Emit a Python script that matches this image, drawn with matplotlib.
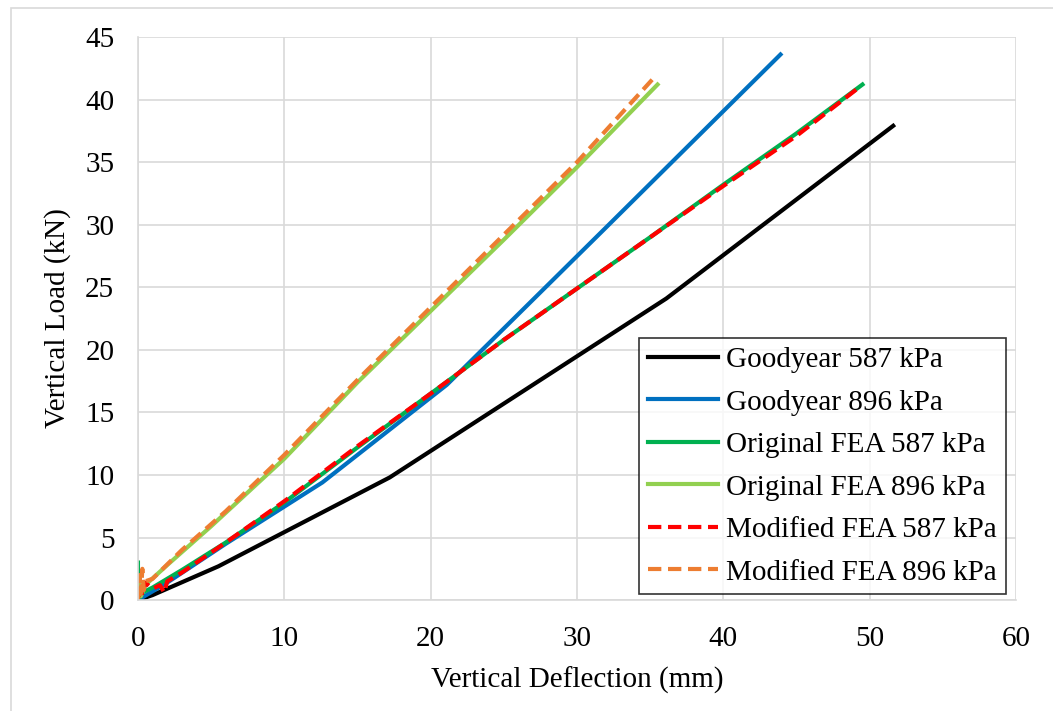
import matplotlib.pyplot as plt
from matplotlib.patches import Rectangle

plt.rcParams['font.family'] = ['Liberation Serif', 'DejaVu Serif']

# Goodyear measured
gy587_x = [0.0, 1.0, 5.5, 17.2, 36.1, 51.6]
gy587_y = [0.0, 0.4, 2.7, 9.8, 24.1, 37.9]
gy896_x = [0.0, 2.0, 6.0, 12.6, 21.1, 32.0, 43.9]
gy896_y = [0.0, 1.4, 4.5, 9.4, 17.2, 29.8, 43.6]

# Original FEA
ofea587_x = [0.0, 0.0, 0.1, 0.3, 1.0, 3.0, 6.0, 10.0, 15.0, 20.0, 25.0, 30.0, 35.0, 40.0, 45.0, 49.5]
ofea587_y = [3.0, 0.5, 0.2, 0.6, 1.0, 2.4, 4.6, 7.8, 12.2, 16.5, 20.8, 24.9, 29.0, 33.2, 37.3, 41.2]
ofea896_x = [0.0, 0.2, 0.5, 2.0, 5.0, 10.0, 15.0, 20.0, 25.0, 30.0, 35.5]
ofea896_y = [1.8, 0.3, 1.2, 2.8, 5.9, 11.3, 17.4, 23.1, 28.8, 34.6, 41.2]

# Modified FEA
mfea587_x = [0.0, 0.2, 0.3, 0.5, 1.0, 1.5, 1.8, 2.0, 3.0, 6.0, 10.0, 15.0, 20.0, 25.0, 30.0, 35.0, 40.0, 45.0, 49.3]
mfea587_y = [0.2, 0.8, 0.3, 1.4, 0.9, 1.2, 0.6, 1.5, 2.2, 4.6, 7.9, 12.3, 16.5, 20.8, 24.9, 29.0, 33.1, 37.1, 41.0]
mfea896_x = [0.0, 0.1, 0.2, 0.3, 0.4, 0.5, 1.0, 3.0, 6.0, 10.0, 15.0, 20.0, 25.0, 30.0, 35.3]
mfea896_y = [0.0, 2.0, 0.5, 2.5, 0.8, 1.5, 1.7, 4.0, 7.1, 11.6, 17.6, 23.4, 29.2, 35.0, 41.8]

fig = plt.figure(figsize=(10.53, 7.11), dpi=100)
ax = fig.add_axes([0.131, 0.156, 0.834, 0.792])
fig.patches.append(Rectangle((0.0105, -0.01), 1.0, 0.999, transform=fig.transFigure,
                             fill=False, edgecolor='#d9d9d9', lw=1.2))

lw = 3
dash = (0, (3.2, 1.6))
ax.plot(gy587_x, gy587_y, color='black', lw=lw, label='Goodyear 587 kPa')
ax.plot(gy896_x, gy896_y, color='#0070c0', lw=lw, label='Goodyear 896 kPa')
ax.plot(ofea587_x, ofea587_y, color='#00b050', lw=lw, label='Original FEA 587 kPa')
ax.plot(ofea896_x, ofea896_y, color='#92d050', lw=lw, label='Original FEA 896 kPa')
ax.plot(mfea587_x, mfea587_y, color='#ff0000', lw=lw, ls=dash, label='Modified FEA 587 kPa')
ax.plot(mfea896_x, mfea896_y, color='#ed7d31', lw=lw, ls=dash, label='Modified FEA 896 kPa')

ax.set_xlim(0, 60)
ax.set_ylim(0, 45)
ax.set_xticks(range(0, 61, 10))
ax.set_yticks(range(0, 46, 5))
ax.grid(True, color='#d9d9d9', lw=1.2)
ax.set_axisbelow(True)
for s in ['top', 'right']:
    ax.spines[s].set_visible(False)
for s in ['left', 'bottom']:
    ax.spines[s].set_color('#d9d9d9')
    ax.spines[s].set_linewidth(1.2)
ax.tick_params(length=0, labelsize=21)
ax.tick_params(axis='x', pad=19)
ax.tick_params(axis='y', pad=17)
ax.set_xlabel('Vertical Deflection (mm)', fontsize=21, labelpad=10)
ax.set_ylabel('Vertical Load (kN)', fontsize=21, labelpad=10)

leg = ax.legend(loc='lower right', fontsize=21, frameon=True, fancybox=False,
                edgecolor='black', handlelength=2.4, handletextpad=0.3,
                borderpad=0.3, labelspacing=0.55, borderaxespad=0.2,
                bbox_to_anchor=(0.995, 0.0))
leg.get_frame().set_linewidth(1.2)

fig.savefig('out.png', dpi=100)
